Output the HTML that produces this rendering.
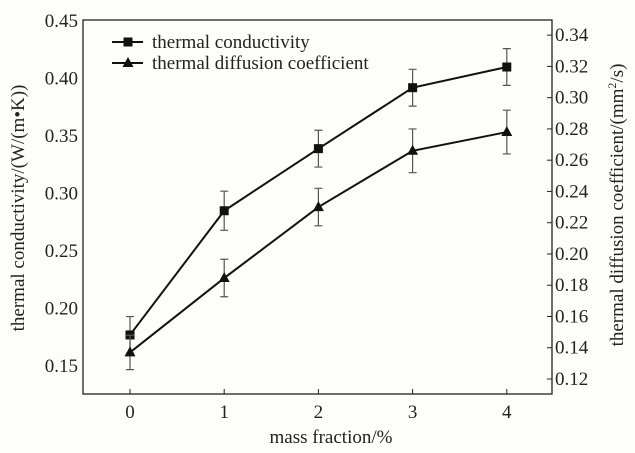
<!DOCTYPE html>
<html><head><meta charset="utf-8"><style>
html,body{margin:0;padding:0;background:#fdfdfb;}
svg{display:block;font-family:"Liberation Serif",serif;}
</style></head><body>
<svg id="chart" width="635" height="453" viewBox="0 0 635 453">
<rect x="0" y="0" width="635" height="453" fill="#fdfdfb"/>
<g id="g"></g>
</svg>
<script>
const categories = [0, 1, 2, 3, 4];
const conductivity = [0.177, 0.285, 0.339, 0.392, 0.410];
const conductivityErr = [0.016, 0.017, 0.016, 0.016, 0.016];
const diffusion = [0.137, 0.1846, 0.230, 0.266, 0.278];
const diffusionErr = [0.011, 0.012, 0.012, 0.014, 0.014];
const leftTicks = [0.15, 0.20, 0.25, 0.30, 0.35, 0.40, 0.45];
const rightTicks = [0.12, 0.14, 0.16, 0.18, 0.20, 0.22, 0.24, 0.26, 0.28, 0.30, 0.32, 0.34];

const NS = "http://www.w3.org/2000/svg";
const g = document.getElementById('g');
const L = 83, R = 552, T = 20, B = 394;
const FS = 19;
const xS = v => 130 + v * 94.2;
const yL = v => 366 - (v - 0.15) * 1150;
const yR = v => 379 - (v - 0.12) * 1563;
function el(tag, attrs, parent) {
  const e = document.createElementNS(NS, tag);
  for (const k in attrs) e.setAttribute(k, attrs[k]);
  (parent || g).appendChild(e);
  return e;
}
const frame = el('rect', {x: L, y: T, width: R - L, height: B - T, fill: 'none', stroke: '#222', 'stroke-width': 1.3});



leftTicks.forEach(v => {
  const t = el('text', {x: L - 5, y: yL(v) + 6, 'text-anchor': 'end', 'font-size': FS, fill: '#222'});
  t.textContent = v.toFixed(2);
  
  
});
rightTicks.forEach(v => {
  const tk = el('line', {x1: R - 5, x2: R, y1: yR(v), y2: yR(v), stroke: '#222', 'stroke-width': 1});
  
  
  const t = el('text', {x: R + 3, y: yR(v) + 6, 'font-size': FS, fill: '#222'});
  t.textContent = v.toFixed(2);
  
  
});
categories.forEach(c => {
  const tk = el('line', {x1: xS(c), x2: xS(c), y1: B - 5, y2: B, stroke: '#222', 'stroke-width': 1});
  
  
  const t = el('text', {x: xS(c), y: B + 24, 'text-anchor': 'middle', 'font-size': FS, fill: '#222'});
  t.textContent = c;
  
  
});

function series(vals, errs, ys, marker, name) {
  vals.forEach((v, i) => {
    const x = xS(categories[i]);
    const e = el('path', {d: `M${x},${ys(v + errs[i])}V${ys(v - errs[i])}M${x-4},${ys(v + errs[i])}H${x+4}M${x-4},${ys(v - errs[i])}H${x+4}`, stroke: '#555', 'stroke-width': 1.2, fill: 'none'});
    
    
  });
  const pts = vals.map((v, i) => xS(categories[i]) + ',' + ys(v)).join(' ');
  const pl = el('polyline', {points: pts, fill: 'none', stroke: '#111', 'stroke-width': 2});
  
  
  vals.forEach((v, i) => {
    const x = xS(categories[i]), y = ys(v);
    let m;
    if (marker === 'square') m = el('rect', {x: x - 4.5, y: y - 4.5, width: 9, height: 9, fill: '#111'});
    else m = el('polygon', {points: `${x},${y-6} ${x-5.5},${y+4} ${x+5.5},${y+4}`, fill: '#111'});
    
    
  });
}
series(conductivity, conductivityErr, yL, 'square', 'conductivity');
series(diffusion, diffusionErr, yR, 'triangle', 'diffusion');

[['square', 'thermal conductivity', 42], ['triangle', 'thermal diffusion coefficient', 63]].forEach(([mk, label, y]) => {
  const grp = el('g', {});
  
  
  el('line', {x1: 112, x2: 143, y1: y, y2: y, stroke: '#111', 'stroke-width': 2}, grp);
  if (mk === 'square') el('rect', {x: 123.5, y: y - 4.5, width: 9, height: 9, fill: '#111'}, grp);
  else el('polygon', {points: `128,${y-6} 122.5,${y+4} 133.5,${y+4}`, fill: '#111'}, grp);
  const t = el('text', {x: 152, y: y + 6, 'font-size': FS, fill: '#222'}, grp);
  t.textContent = label;
});

const xt = el('text', {x: 331, y: 443, 'text-anchor': 'middle', 'font-size': FS, fill: '#222'});
xt.textContent = 'mass fraction/%';


const ylt = el('text', {x: 0, y: 0, 'text-anchor': 'middle', 'font-size': FS, fill: '#222', transform: 'translate(24,208) rotate(-90)'});
ylt.textContent = 'thermal conductivity/(W/(m\u2022K))';


const yrt = el('text', {x: 0, y: 0, 'text-anchor': 'middle', 'font-size': FS, fill: '#222', transform: 'translate(623,205) rotate(-90)'});
yrt.innerHTML = 'thermal diffusion coefficient/(mm<tspan dy="-7" font-size="12">2</tspan><tspan dy="7">/s)</tspan>';


</script>
</body></html>
